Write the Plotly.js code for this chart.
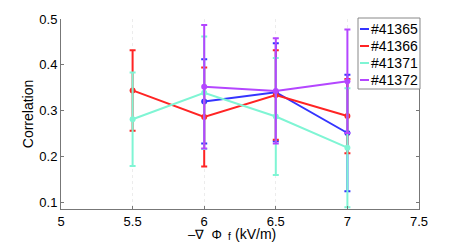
<!DOCTYPE html>
<html>
<head>
<meta charset="utf-8">
<script src="https://cdn.plot.ly/plotly-3.0.1.min.js"></script>
<style>html,body{margin:0;padding:0;background:#fff;}#chart{width:463px;height:243px;}</style>
</head>
<body>
<div id="chart"></div>
<script>
const seriesNames = ['#41365', '#41366', '#41371', '#41372'];
const seriesColors = ['#3434ff', '#ff2424', '#7ff5d4', '#b446ff'];

const x41365 = [6, 6.5, 7];
const y41365 = [0.320, 0.340, 0.251];
const e41365 = [0.092, 0.107, 0.127];

const x41366 = [5.5, 6, 6.5, 7];
const y41366 = [0.344, 0.286, 0.334, 0.288];
const e41366 = [0.088, 0.108, 0.098, 0.081];

const x41371 = [5.5, 6, 6.5, 7];
const y41371 = [0.281, 0.339, 0.287, 0.219];
const e41371 = [0.102, 0.123, 0.128, 0.130];

const x41372 = [6, 6.5, 7];
const y41372 = [0.352, 0.343, 0.364];
const e41372 = [0.135, 0.115, 0.113];

const xs = [x41365, x41366, x41371, x41372];
const ys = [y41365, y41366, y41371, y41372];
const es = [e41365, e41366, e41371, e41372];

const xTicks = [5, 5.5, 6, 6.5, 7, 7.5];
const xTickLabels = ['5', '5.5', '6', '6.5', '7', '7.5'];
const yTicks = [0.1, 0.2, 0.3, 0.4, 0.5];
const yTickLabels = ['0.1', '0.2', '0.3', '0.4', '0.5'];

const traces = seriesNames.map((n, i) => ({
  type: 'scatter', mode: 'lines+markers', name: n,
  x: xs[i], y: ys[i],
  error_y: {type: 'data', array: es[i], visible: true, color: seriesColors[i], thickness: 2, width: 3},
  line: {color: seriesColors[i], width: 2},
  marker: {color: seriesColors[i], size: 6},
  showlegend: false
}));

const L = 61, R = 44, T = 19, B = 34, W = 463 - L - R, H = 243 - T - B;
const px = v => (v - L) / W;
const py = v => (243 - B - v) / H;
const FONT = 'Liberation Sans, Arial, sans-serif';

const shapes = [{
  type: 'rect', xref: 'paper', yref: 'paper',
  x0: px(358), x1: px(420), y0: py(89), y1: py(18),
  line: {color: '#888', width: 1}, fillcolor: 'rgba(255,255,255,0.95)'
}];
const annotations = [];
const rowY = [29, 46, 63, 80];
seriesNames.forEach((n, i) => {
  shapes.push({type: 'line', xref: 'paper', yref: 'paper',
    x0: px(360), x1: px(369), y0: py(rowY[i]), y1: py(rowY[i]),
    line: {color: seriesColors[i], width: 2}});
  annotations.push({xref: 'paper', yref: 'paper', x: px(369), y: py(rowY[i]),
    xanchor: 'left', yanchor: 'middle', showarrow: false, text: n,
    font: {family: FONT, size: 14, color: '#000'}});
});
annotations.push({xref: 'paper', yref: 'paper', x: px(223), y: py(234),
  xanchor: 'right', yanchor: 'middle', showarrow: false,
  text: '\u2013\u2207\u00A0 \u03A6', borderpad: 0,
  font: {family: FONT, size: 13, color: '#000'}});
annotations.push({xref: 'paper', yref: 'paper', x: px(229), y: py(236.5),
  xanchor: 'center', yanchor: 'middle', showarrow: false, text: 'f', borderpad: 0,
  font: {family: FONT, size: 10, color: '#000'}});
annotations.push({xref: 'paper', yref: 'paper', x: px(234), y: py(234),
  xanchor: 'left', yanchor: 'middle', showarrow: false, text: '(kV/m)', borderpad: 0,
  font: {family: FONT, size: 14, color: '#000'}});

const layout = {
  width: 463, height: 243,
  margin: {l: L, r: R, t: T, b: B, pad: 0},
  paper_bgcolor: '#fff', plot_bgcolor: '#fff',
  font: {family: FONT, size: 13, color: '#000'},
  showlegend: false,
  xaxis: {
    range: [5, 7.5], tickvals: xTicks, ticktext: xTickLabels,
    showline: true, linecolor: '#777', linewidth: 1,
    ticks: 'inside', ticklen: 3, tickcolor: '#777',
    showgrid: true, gridcolor: '#ececec', griddash: 'dot', gridwidth: 1,
    zeroline: false, tickfont: {size: 13}
  },
  yaxis: {
    range: [0.085, 0.5], tickvals: yTicks, ticktext: yTickLabels,
    showline: true, mirror: 'ticks', linecolor: '#777', linewidth: 1,
    ticks: 'inside', ticklen: 3, tickcolor: '#777',
    showgrid: false, zeroline: false, tickfont: {size: 13},
    title: {text: 'Correlation', font: {size: 14}, standoff: 2}
  },
  shapes: shapes,
  annotations: annotations
};

Plotly.newPlot('chart', traces, layout, {displayModeBar: false, staticPlot: true});
</script>
</body>
</html>
